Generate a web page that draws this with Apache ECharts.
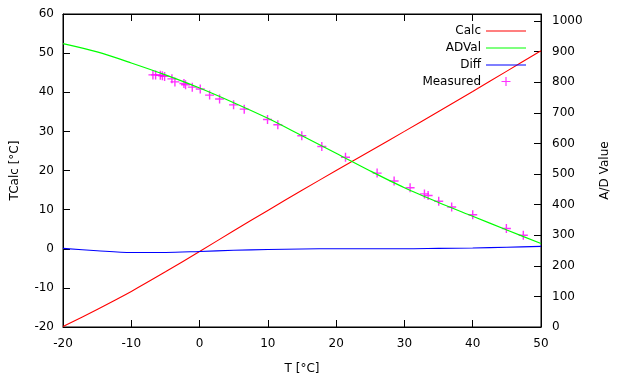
<!DOCTYPE html>
<html>
<head>
<meta charset="utf-8">
<script src="https://cdn.jsdelivr.net/npm/echarts@6/dist/echarts.min.js"></script>
<style>
html,body{margin:0;padding:0;background:#fff;}
#c{width:619px;height:380px;}
</style>
</head>
<body>
<div id="c"></div>
<script>
// Curve sample temperatures (°C)
const temps = [-20,-15,-10,-5,0,5,10,15,20,25,30,35,40,45,50];
// Calculated temperature (left axis)
const calcVals = [-19.9,-15.5,-10.9,-5.9,-0.7,4.6,9.8,14.95,20.0,25.0,30.0,35.1,40.2,45.4,50.6];
// A/D value curve (right axis)
const adVals = [926,899,863,824,781,733,682,625,568,510,455,407,362,317,273];
// Difference Tcalc - T (left axis)
const diffVals = [0.1,-0.5,-0.95,-0.95,-0.7,-0.4,-0.2,-0.05,0.0,0.0,0.0,0.1,0.2,0.4,0.6];
// Measured points
const measT  = [-6.83,-6.44,-5.75,-5.45,-5.12,-4.05,-3.61,-2.29,-2.05,-1.07,0.1,1.47,2.93,4.98,6.54,9.95,11.46,14.97,17.9,21.37,26.0,28.49,30.83,32.93,33.47,35.02,36.92,40.0,44.93,47.41];
const measAD = [824,824,823,821,819,811,801,796,792,784,778,758,745,726,712,678,661,625,590,555,503,477,455,435,430,411,392,367,322,300];
// Tick settings
const xTicks = {min:-20, max:50, step:10};
const yTicks = {min:-20, max:60, step:10};
const y2Ticks = {min:0, max:1023, step:100};

const font = 'DejaVu Sans';
const pair = (xs, ys) => xs.map((x,i)=>[x, ys[i]]);
const plusPath = 'path://M3.8,0H5.2V9H3.8Z M0,3.8H9V5.2H0Z';
const plusLegend = 'path://M0,0M40,10M19.4,0.5H20.6V9.5H19.4Z M15.5,4.4H24.5V5.6H15.5Z';
const lineLegend = 'path://M0,0M40,10M0,5H40V6H0Z';

const chart = echarts.init(document.getElementById('c'), null, {renderer:'canvas'});
const lbl = {color:'#000', fontFamily:font, fontSize:12};
const axLine = {show:true, onZero:false, lineStyle:{color:'#000', width:1}};
const axTick = {show:true, inside:true, length:7, lineStyle:{color:'#000'}};
chart.setOption({
  animation:false,
  backgroundColor:'#fff',
  grid:{left:63, top:14, width:479, height:313, show:true, borderColor:'#000', borderWidth:1, backgroundColor:'transparent'},
  legend:{
    orient:'vertical', right:88, top:19, align:'right',
    itemWidth:40, itemHeight:10, itemGap:4,
    textStyle:{color:'#000', fontFamily:font, fontSize:12, lineHeight:13},
    data:[
      {name:'Calc', icon:lineLegend},
      {name:'ADVal', icon:lineLegend},
      {name:'Diff', icon:lineLegend},
      {name:'Measured', icon:plusLegend}
    ]
  },
  xAxis:[{
    type:'value', min:xTicks.min, max:xTicks.max, interval:xTicks.step,
    name:'T [°C]', nameLocation:'middle', nameGap:36,
    nameTextStyle:lbl,
    axisLine:axLine, axisTick:axTick,
    axisLabel:Object.assign({margin:11}, lbl),
    splitLine:{show:false}
  },{
    type:'value', position:'top', min:xTicks.min, max:xTicks.max, interval:xTicks.step,
    axisLine:axLine, axisTick:axTick,
    axisLabel:{show:false},
    splitLine:{show:false}
  }],
  yAxis:[{
    type:'value', min:yTicks.min, max:yTicks.max, interval:yTicks.step,
    name:'TCalc [°C]', nameLocation:'middle', nameGap:42,
    nameTextStyle:lbl,
    axisLine:axLine, axisTick:axTick,
    axisLabel:Object.assign({margin:9}, lbl),
    splitLine:{show:false}
  },{
    type:'value', position:'right', min:y2Ticks.min, max:y2Ticks.max, interval:y2Ticks.step,
    name:'A/D Value', nameLocation:'middle', nameGap:58,
    nameTextStyle:lbl,
    axisLine:axLine, axisTick:axTick,
    axisLabel:Object.assign({margin:11, showMaxLabel:false,
      formatter:v => (v % 100 === 0 ? String(v) : '')}, lbl),
    splitLine:{show:false}
  }],
  series:[
    {name:'Calc', type:'line', xAxisIndex:0, yAxisIndex:0, data:pair(temps, calcVals),
     smooth:0.3, symbol:'none', color:'#ff0000', lineStyle:{color:'#ff0000', width:1.1}},
    {name:'ADVal', type:'line', xAxisIndex:0, yAxisIndex:1, data:pair(temps, adVals),
     smooth:0.3, symbol:'none', color:'#00ff00', lineStyle:{color:'#00ff00', width:1.2}},
    {name:'Diff', type:'line', xAxisIndex:0, yAxisIndex:0, data:pair(temps, diffVals),
     smooth:0.3, symbol:'none', color:'#0000ff', lineStyle:{color:'#0000ff', width:1.1}},
    {name:'Measured', type:'scatter', xAxisIndex:0, yAxisIndex:1, data:pair(measT, measAD),
     symbol:plusPath, symbolSize:9, color:'#ff00ff', itemStyle:{color:'#ff00ff'}}
  ]
});
</script>
</body>
</html>
